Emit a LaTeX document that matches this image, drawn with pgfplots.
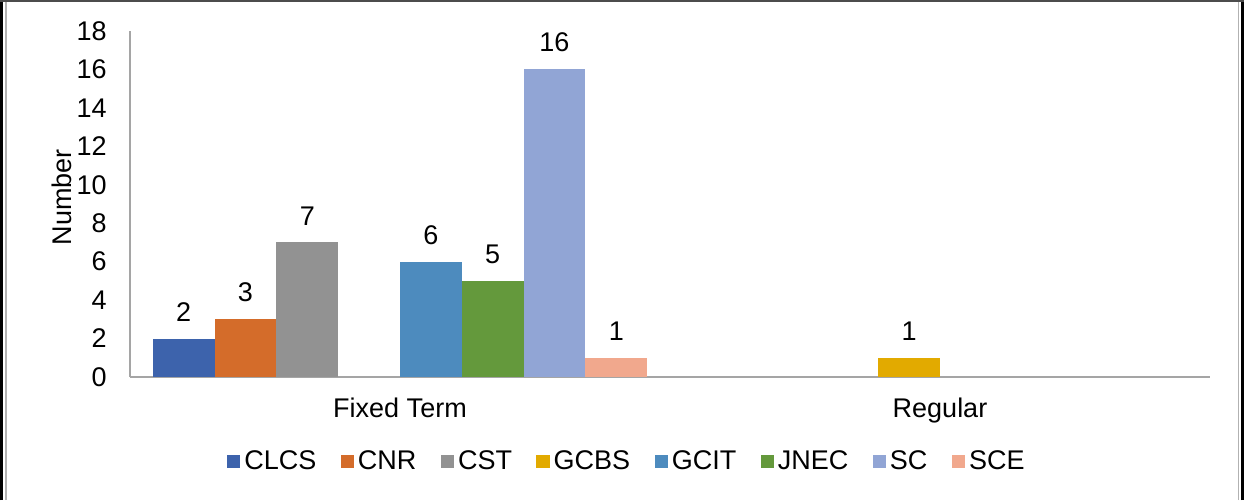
\documentclass[border=0pt]{standalone}
\usepackage{pgfplots}
\pgfplotsset{compat=1.18}
\usepackage{fontspec}
\setmainfont{Liberation Sans}
\definecolor{cCLCS}{RGB}{61,99,172}
\definecolor{cCNR}{RGB}{212,108,42}
\definecolor{cCST}{RGB}{146,146,146}
\definecolor{cGCBS}{RGB}{226,170,0}
\definecolor{cGCIT}{RGB}{77,139,190}
\definecolor{cJNEC}{RGB}{100,153,60}
\definecolor{cSC}{RGB}{145,165,213}
\definecolor{cSCE}{RGB}{241,168,141}
\definecolor{axisgray}{RGB}{165,165,165}
\newcommand{\chartfont}{\fontsize{13.5pt}{16pt}\selectfont}
\begin{document}
\chartfont
\begin{tikzpicture}
\path[use as bounding box] (-65pt,-61.5pt) rectangle (557pt,188.5pt);
\draw[black, line width=1.5pt] (-64.25pt,-61.5pt) -- (-64.25pt,188.5pt);
\draw[black, line width=1.5pt] (556.25pt,-61.5pt) -- (556.25pt,188.5pt);
\draw[black!70, line width=0.8pt] (-65pt,188.1pt) -- (557pt,188.1pt);
\draw[black!30, line width=0.6pt] (-62pt,-61.5pt) -- (-62pt,187.7pt);
\draw[black!30, line width=0.6pt] (554.2pt,-61.5pt) -- (554.2pt,187.7pt);
\begin{axis}[
  at={(0,0)}, anchor=south west,
  scale only axis, width=540pt, height=173pt,
  ybar=0pt, bar width=30.9pt,
  xmin=-0.5, xmax=1.5, ymin=0, ymax=18,
  xtick={0,1}, xticklabels={Fixed Term,Regular},
  ytick={0,2,...,18},
  axis x line*=bottom, axis y line*=left,
  axis line style={-, draw=axisgray, line width=1pt},
  major tick length=0pt,
  /pgf/number format/assume math mode=true,
  tick label style={font=\chartfont},
  yticklabel style={xshift=-7pt},
  xticklabel style={anchor=base, yshift=-20.4pt},
  ylabel={Number},
  ylabel style={at={(rel axis cs:-0.063,0.52)}, anchor=center, font=\chartfont},
  nodes near coords,
  nodes near coords style={text=black, anchor=south, yshift=4pt, font=\chartfont},
  legend columns=-1,
  legend style={draw=none, at={(0.461,-0.245)}, anchor=center, font=\chartfont,
    /tikz/every even column/.append style={column sep=10.2pt}},
  legend image code/.code={\fill[#1] (0pt,-3.3pt) rectangle (6.6pt,3.3pt);},
]
\addplot[fill=cCLCS, draw=none] coordinates {(0,2)};
\addlegendentry{CLCS}
\addplot[fill=cCNR, draw=none] coordinates {(0,3)};
\addlegendentry{CNR}
\addplot[fill=cCST, draw=none] coordinates {(0,7)};
\addlegendentry{CST}
\addplot[fill=cGCBS, draw=none] coordinates {(1,1)};
\addlegendentry{GCBS}
\addplot[fill=cGCIT, draw=none] coordinates {(0,6)};
\addlegendentry{GCIT}
\addplot[fill=cJNEC, draw=none] coordinates {(0,5)};
\addlegendentry{JNEC}
\addplot[fill=cSC, draw=none] coordinates {(0,16)};
\addlegendentry{SC}
\addplot[fill=cSCE, draw=none] coordinates {(0,1)};
\addlegendentry{SCE}
\end{axis}
\end{tikzpicture}
\end{document}
